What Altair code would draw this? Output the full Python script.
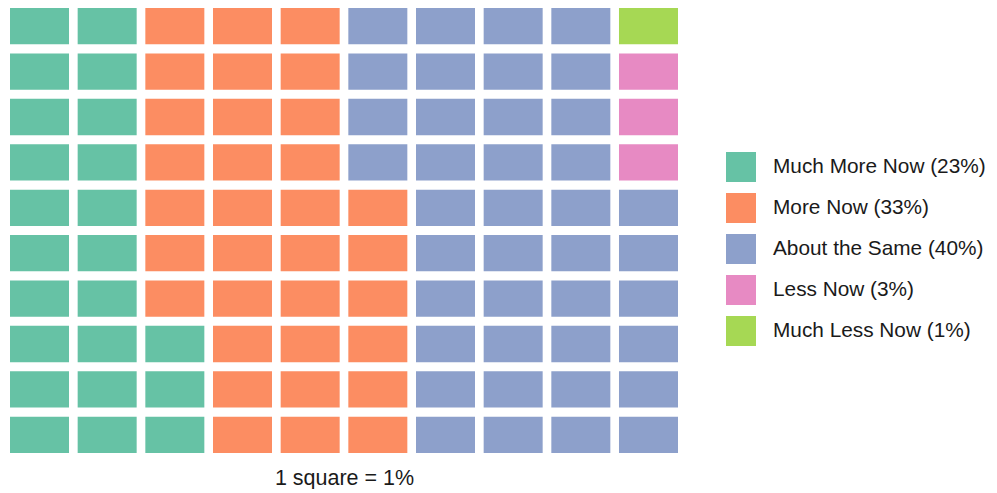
import altair as alt
import pandas as pd

categories = ["Much More Now", "More Now", "About the Same", "Less Now", "Much Less Now"]
counts = [23, 33, 40, 3, 1]
colors = ["#66c2a5", "#fc8d62", "#8da0cb", "#e78ac3", "#a6d854"]
n_cols = 10
n_rows = 10

labels = [f"{c} ({n}%)" for c, n in zip(categories, counts)]

rows = []
i = 0
for lab, n in zip(labels, counts):
    for _ in range(n):
        rows.append({"col": i // n_rows, "row": i % n_rows, "cat": lab})
        i += 1
df = pd.DataFrame(rows)

chart = alt.Chart(df).mark_rect().encode(
    x=alt.X("col:O", scale=alt.Scale(paddingInner=0.128, paddingOuter=0),
            axis=alt.Axis(labels=False, ticks=False, domain=False, title="1 square = 1%",
                          titleFontSize=21.5, titleFont="Liberation Sans", titleFontWeight="normal",
                          titleColor="#1a1a1a", titlePadding=14)),
    y=alt.Y("row:O", sort="descending", scale=alt.Scale(paddingInner=0.2, paddingOuter=0),
            axis=None),
    color=alt.Color("cat:N", scale=alt.Scale(domain=labels, range=colors),
                    legend=alt.Legend(title=None, orient="none", legendX=716, legendY=144,
                                      symbolType="square", symbolSize=900, symbolStrokeWidth=0,
                                      symbolOpacity=1, labelFontSize=20.8, labelFont="Liberation Sans",
                                      labelColor="#1a1a1a", labelOffset=17, rowPadding=11,
                                      labelLimit=400)),
).properties(
    width=668, height=445,
    padding={"left": 2, "top": 0, "right": 0, "bottom": 0},
).configure_view(stroke=None)

chart.save("out.html", embed_options={"renderer": "svg", "actions": False})
